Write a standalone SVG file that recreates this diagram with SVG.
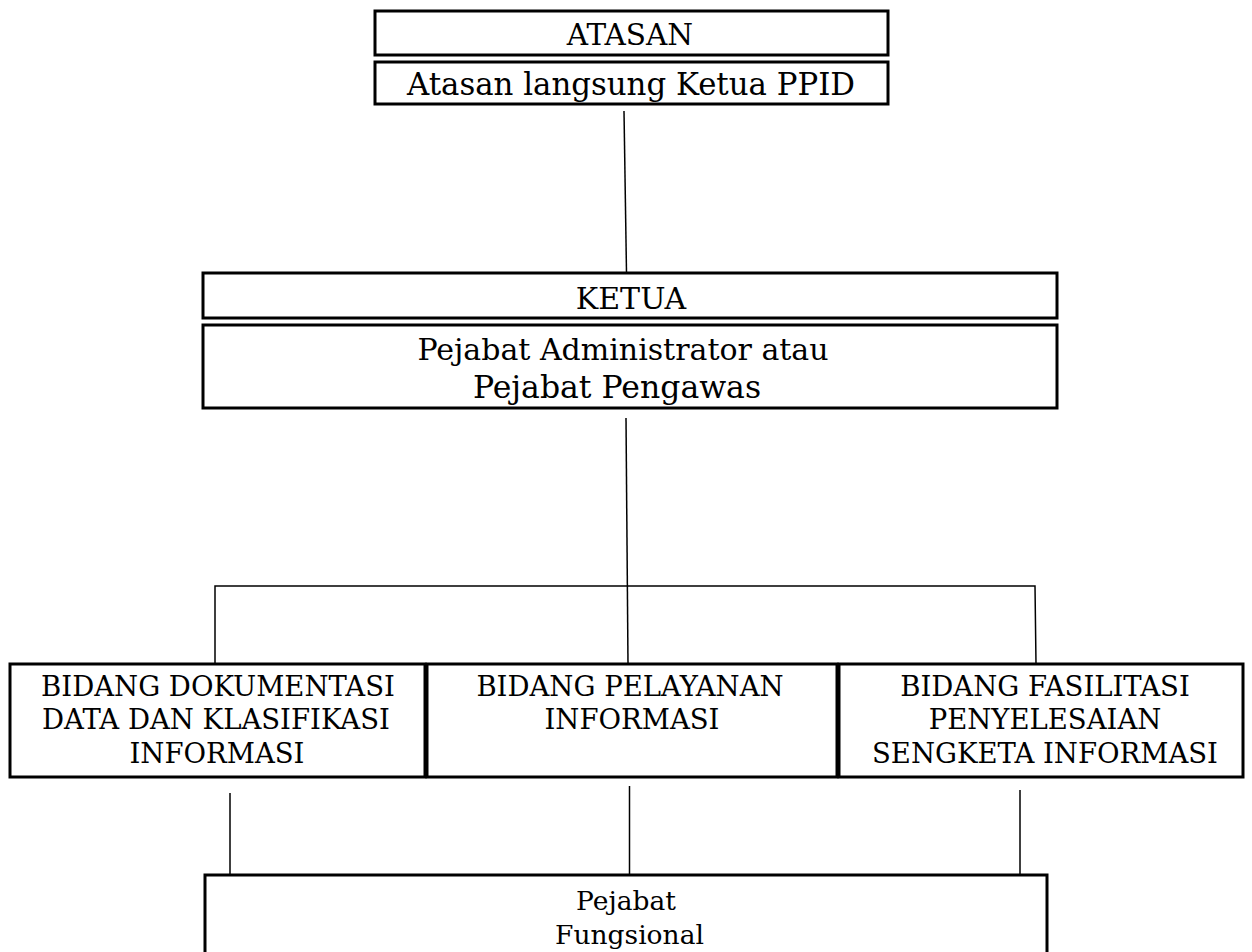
<svg xmlns="http://www.w3.org/2000/svg" width="1252" height="952" viewBox="0 0 1252 952">
<style>
.box{fill:#fff;stroke:#000;stroke-width:3}
.ln{stroke:#000;stroke-width:1.5;fill:none}
.t{font-family:"DejaVu Serif","Liberation Serif",serif;fill:#000;text-anchor:middle}
.a{font-size:30px}
.b{font-size:27.5px}
.c{font-size:26.5px}
</style>
<rect width="1252" height="952" fill="#fff"/>
<g id="connectors">
<line class="ln" x1="624" y1="111" x2="626.5" y2="273"/>
<line class="ln" x1="626" y1="418" x2="628" y2="664"/>
<polyline class="ln" points="215,664 215,586 1035,586 1036,664"/>
<line class="ln" x1="230" y1="793" x2="230" y2="875"/>
<line class="ln" x1="629.5" y1="786" x2="629.5" y2="875"/>
<line class="ln" x1="1020" y1="790" x2="1020" y2="875"/>
</g>
<g id="atasan">
<rect class="box" x="375" y="11" width="513" height="44"/>
<text class="t a" x="630" y="45" style="font-size:29.5px">ATASAN</text>
</g>
<g id="atasan-langsung">
<rect class="box" x="375" y="62" width="513" height="42"/>
<text class="t a" x="631" y="94.5" style="font-size:30.8px">Atasan langsung Ketua PPID</text>
</g>
<g id="ketua">
<rect class="box" x="203" y="273" width="854" height="45"/>
<text class="t a" x="631" y="308.5">KETUA</text>
</g>
<g id="pejabat-admin">
<rect class="box" x="203" y="325" width="854" height="83"/>
<text class="t a" x="623" y="360">Pejabat Administrator atau</text>
<text class="t a" x="617" y="398" style="font-size:31.5px">Pejabat Pengawas</text>
</g>
<g id="bidang-dokumentasi">
<rect class="box" x="10" y="664" width="415" height="113"/>
<text class="t b" x="218" y="696">BIDANG DOKUMENTASI</text>
<text class="t b" x="216" y="729">DATA DAN KLASIFIKASI</text>
<text class="t b" x="217" y="763">INFORMASI</text>
</g>
<g id="bidang-pelayanan">
<rect class="box" x="427" y="664" width="410" height="113"/>
<text class="t b" x="630" y="696">BIDANG PELAYANAN</text>
<text class="t b" x="632" y="729">INFORMASI</text>
</g>
<g id="bidang-fasilitasi">
<rect class="box" x="839" y="664" width="404" height="113"/>
<text class="t b" x="1045" y="696">BIDANG FASILITASI</text>
<text class="t b" x="1045" y="729">PENYELESAIAN</text>
<text class="t b" x="1045" y="763">SENGKETA INFORMASI</text>
</g>
<g id="fungsional">
<rect class="box" x="205" y="875" width="842" height="90"/>
<text class="t c" x="626" y="910">Pejabat</text>
<text class="t c" x="629.5" y="944">Fungsional</text>
</g>
</svg>
